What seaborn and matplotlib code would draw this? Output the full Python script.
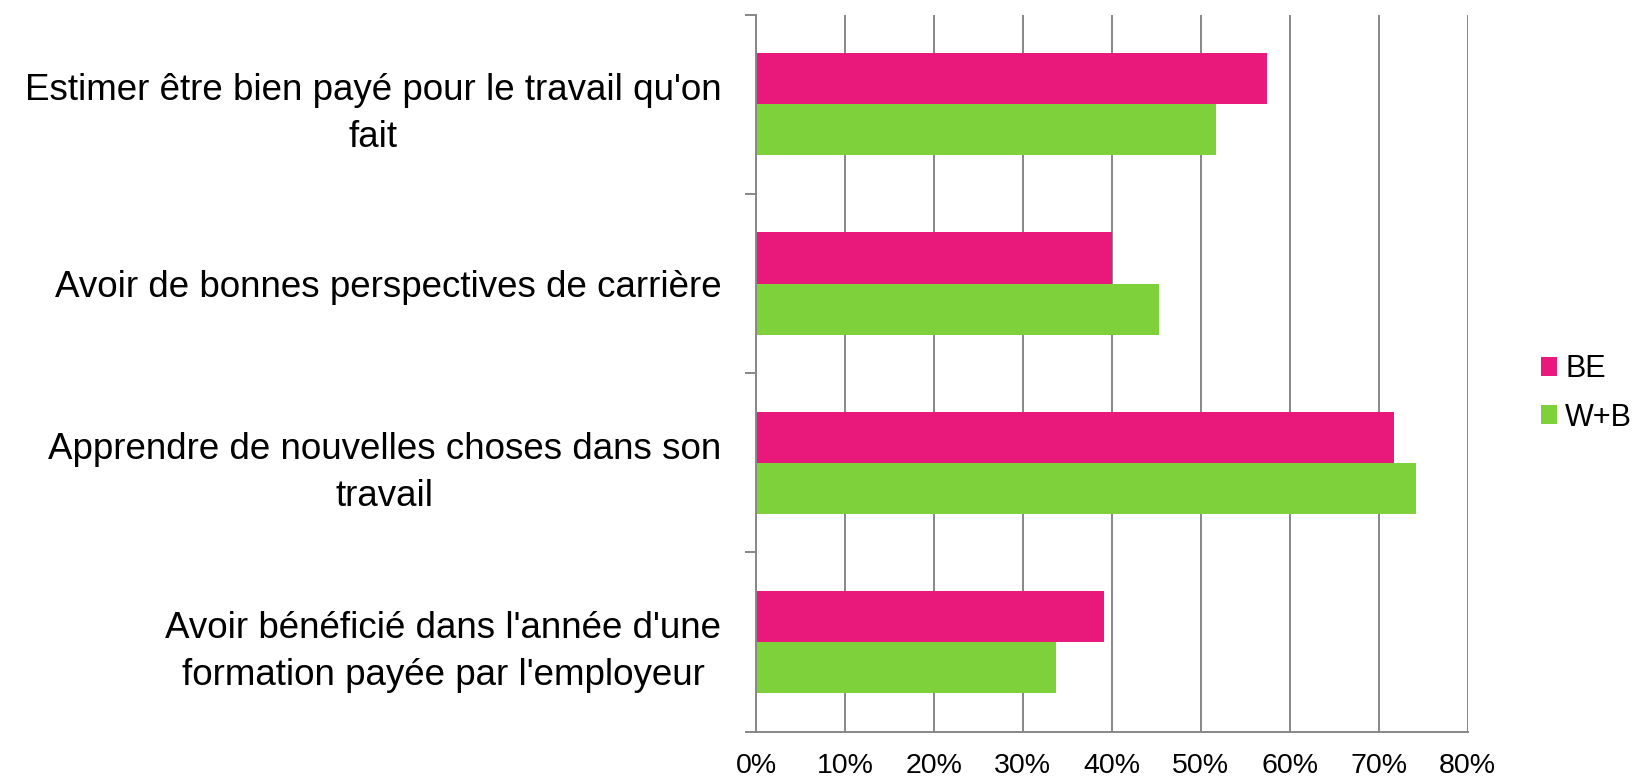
import pandas as pd
import matplotlib.pyplot as plt
import seaborn as sns
from matplotlib.ticker import FixedLocator, PercentFormatter
from matplotlib.patches import Patch

# ------------------------------------------------------------
# Data
# ------------------------------------------------------------

categories = [
    "Estimer être bien payé pour le travail qu'on\nfait",
    "Avoir de bonnes perspectives de carrière",
    "Apprendre de nouvelles choses dans son\ntravail",
    "Avoir bénéficié dans l'année d'une\nformation payée par l'employeur",
]
series = ["BE", "W+B"]
be_values = [57.5, 40.0, 71.7, 39.1]
wb_values = [51.7, 45.3, 74.2, 33.7]
x_ticks = [0, 10, 20, 30, 40, 50, 60, 70, 80]

colors = {"BE": "#E8197A", "W+B": "#7FD13B"}
grey = "#878787"

df = pd.DataFrame({
    "categorie": categories * 2,
    "serie": ["BE"] * 4 + ["W+B"] * 4,
    "valeur": be_values + wb_values,
})

# ------------------------------------------------------------
# Plot
# ------------------------------------------------------------

sns.set_style("white")
plt.rcParams["font.family"] = ["Liberation Sans", "DejaVu Sans"]
plt.rcParams["text.color"] = "black"
plt.rcParams["xtick.labelcolor"] = "black"
plt.rcParams["ytick.labelcolor"] = "black"

fig = plt.figure(figsize=(16.39, 7.82), dpi=100)
ax = fig.add_axes([0.4613, 0.0643, 0.8954 - 0.4613, 0.9813 - 0.0643])

sns.barplot(
    data=df, y="categorie", x="valeur", hue="serie", orient="h",
    palette=colors, width=0.57, saturation=1, ax=ax, legend=False,
    edgecolor="none",
)

ax.set_xlim(0, 80)
ax.set_ylim(3.5, -0.5)
ax.set_xlabel("")
ax.set_ylabel("")

ax.xaxis.set_major_locator(FixedLocator(x_ticks))
ax.xaxis.set_major_formatter(PercentFormatter(decimals=0))
ax.grid(axis="x", color=grey, linewidth=1.4)
ax.grid(axis="y", visible=False)
ax.set_axisbelow(True)
ax.tick_params(axis="x", labelsize=20.5, length=4, width=1.4, color=grey, pad=11)

ax.set_yticks(range(len(categories)))
ax.set_yticklabels(categories, multialignment="center", linespacing=1.45)
ax.tick_params(axis="y", which="major", length=0, labelsize=26.5, pad=25)
ax.yaxis.set_minor_locator(FixedLocator([-0.5, 0.5, 1.5, 2.5, 3.5]))
ax.tick_params(axis="y", which="minor", length=8, width=1.4, color=grey, left=True)

for side in ["top", "right"]:
    ax.spines[side].set_visible(False)
for side in ["left", "bottom"]:
    ax.spines[side].set_color(grey)
    ax.spines[side].set_linewidth(1.4)

handles = [Patch(facecolor=colors[s], edgecolor="none") for s in series]
fig.legend(
    handles, series, loc="center left", bbox_to_anchor=(0.9325, 0.497),
    frameon=False, fontsize=22, handlelength=0.55, handleheight=0.55,
    handletextpad=0.25, labelspacing=0.6, borderaxespad=0,
)

plt.savefig("out.png", dpi=100)
